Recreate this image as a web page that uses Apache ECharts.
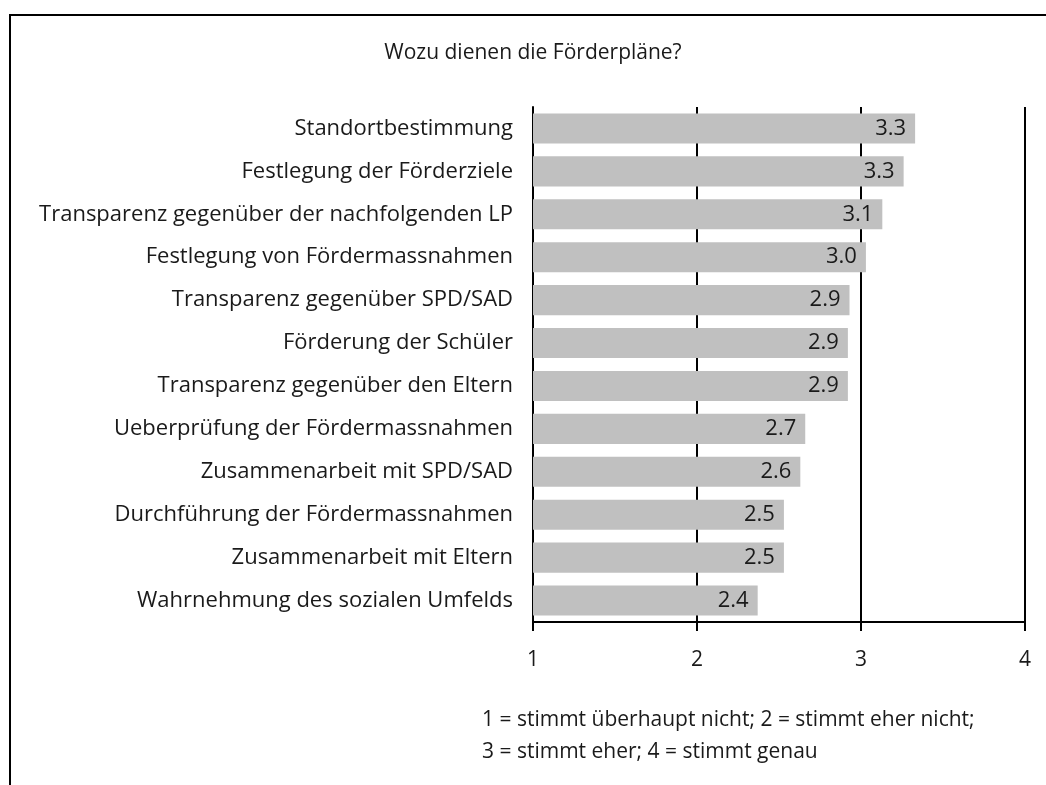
<!DOCTYPE html>
<html><head><meta charset="utf-8">
<script src="https://cdn.jsdelivr.net/npm/echarts@6/dist/echarts.min.js"></script>
<style>html,body{margin:0;padding:0;background:#fff}#c{width:1046px;height:785px}</style>
</head><body><div id="c"></div>
<script>
const titleText = 'Wozu dienen die Förderpläne?';
const categories = [
  'Standortbestimmung',
  'Festlegung der Förderziele',
  'Transparenz gegenüber der nachfolgenden LP',
  'Festlegung von Fördermassnahmen',
  'Transparenz gegenüber SPD/SAD',
  'Förderung der Schüler',
  'Transparenz gegenüber den Eltern',
  'Ueberprüfung der Fördermassnahmen',
  'Zusammenarbeit mit SPD/SAD',
  'Durchführung der Fördermassnahmen',
  'Zusammenarbeit mit Eltern',
  'Wahrnehmung des sozialen Umfelds'
];
const values = [3.33, 3.26, 3.13, 3.03, 2.93, 2.92, 2.92, 2.66, 2.63, 2.53, 2.53, 2.37];
const footnote = ['1 = stimmt überhaupt nicht; 2 = stimmt eher nicht;', '3 = stimmt eher; 4 = stimmt genau'];

const FONT = 'Open Sans';
const FS = 22;
const chart = echarts.init(document.getElementById('c'), null, {renderer: 'canvas'});
chart.setOption({
  animation: false,
  backgroundColor: '#fff',
  textStyle: {fontFamily: FONT},
  title: {
    text: titleText, left: 528, top: 38, textAlign: 'center',
    textStyle: {fontFamily: FONT, fontSize: 21, fontWeight: 'normal', color: '#1a1a1a'}
  },
  grid: {left: 533, right: 21, top: 107, bottom: 163, containLabel: false},
  xAxis: {
    type: 'value', min: 1, max: 4, interval: 1,
    axisLine: {show: true, lineStyle: {color: '#000', width: 2}},
    axisTick: {show: true, length: 9, lineStyle: {color: '#000', width: 2}},
    axisLabel: {margin: 28, fontSize: 21, color: '#1a1a1a', fontFamily: FONT},
    splitLine: {show: true, lineStyle: {color: '#000', width: 2}}
  },
  yAxis: {
    type: 'category', data: categories, inverse: true,
    axisLine: {show: true, lineStyle: {color: '#000', width: 2}},
    axisTick: {show: false},
    axisLabel: {margin: 20, fontSize: FS, color: '#1a1a1a', fontFamily: FONT}
  },
  series: [{
    type: 'bar', data: values, barCategoryGap: '30%',
    itemStyle: {color: '#c0c0c0'},
    label: {
      show: true, position: 'insideRight', distance: 9,
      fontSize: FS, color: '#1a1a1a', fontFamily: FONT,
      formatter: p => p.value.toFixed(1)
    }
  }],
  graphic: [
    {type: 'line', shape: {x1: 10, y1: 15, x2: 1046, y2: 15}, style: {stroke: '#000', lineWidth: 2}},
    {type: 'line', shape: {x1: 10, y1: 14, x2: 10, y2: 785}, style: {stroke: '#000', lineWidth: 2}},
    {type: 'text', left: 482, top: 710, style: {text: footnote[0], font: '21px "Open Sans"', fill: '#1a1a1a'}},
    {type: 'text', left: 482, top: 742, style: {text: footnote[1], font: '21px "Open Sans"', fill: '#1a1a1a'}}
  ]
});
</script></body></html>
